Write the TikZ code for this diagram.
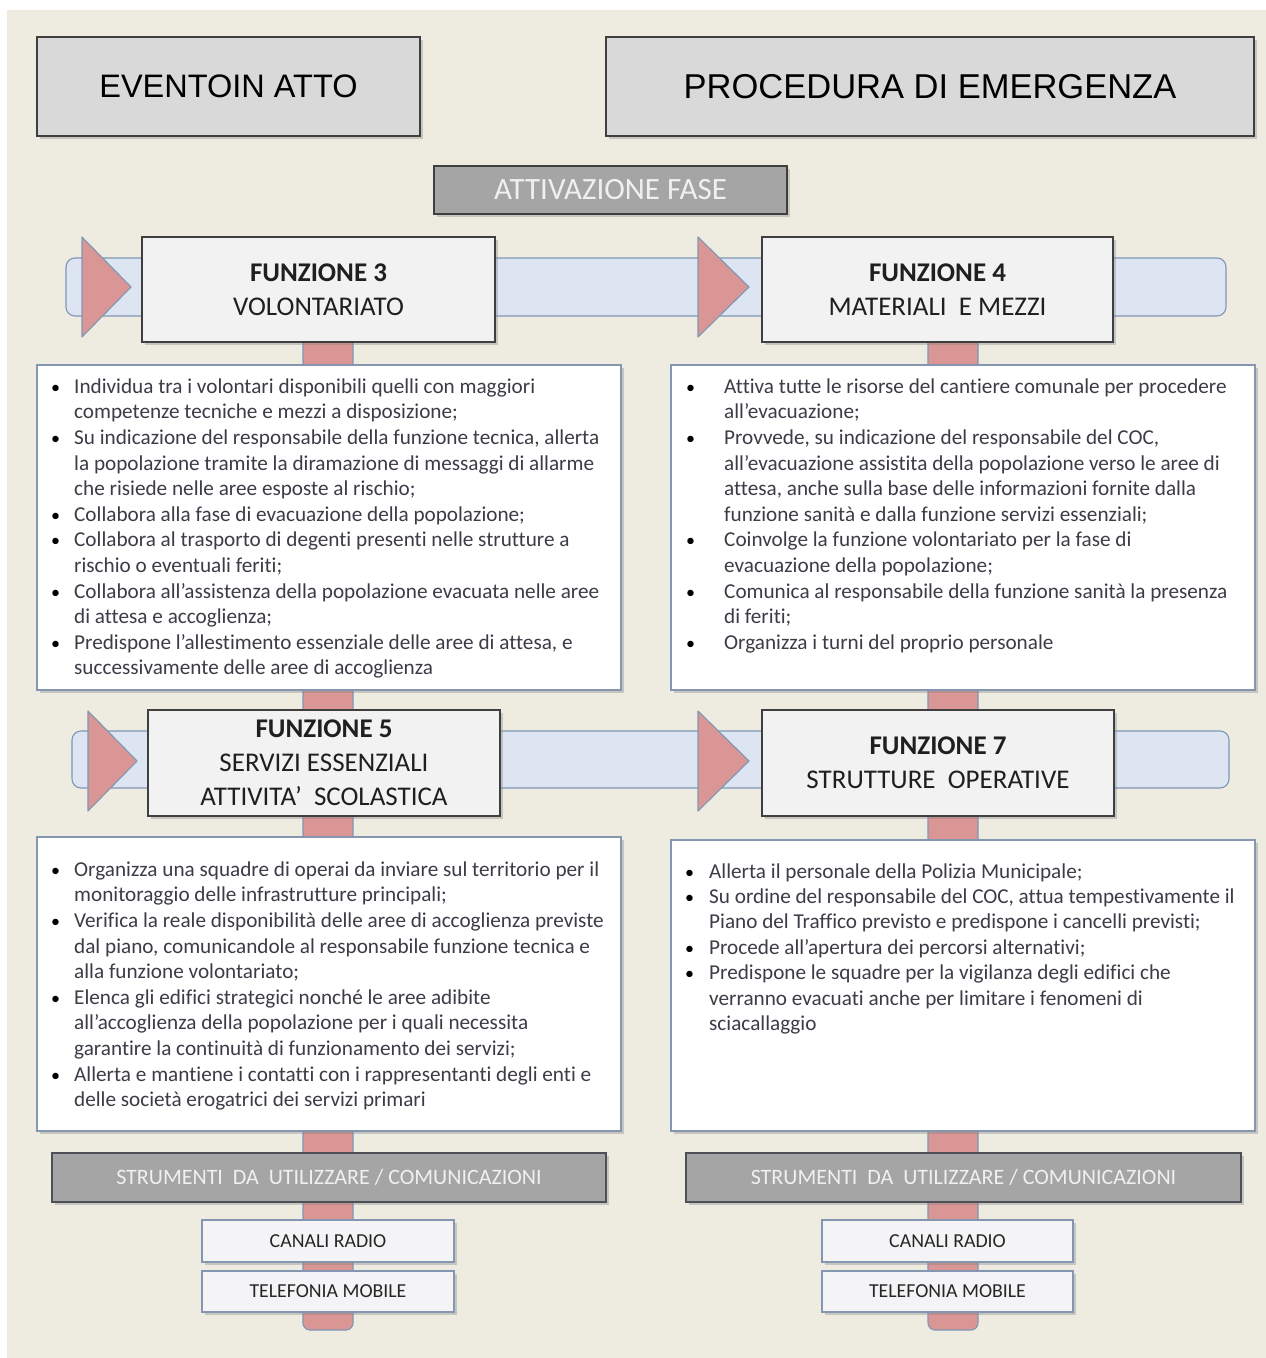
\documentclass[tikz,border=0pt]{standalone}
\usepackage{fontspec}
\setmainfont{Carlito}[Ligatures=CommonOff]
\newfontfamily\headfont{Liberation Sans}
\usetikzlibrary{shadows}

\pgfdeclarelayer{back}
\pgfdeclarelayer{under}
\pgfsetlayers{back,under,main}

\definecolor{bgbeige}{HTML}{EEEBE1}
\definecolor{hdrgray}{HTML}{D9D9D9}
\definecolor{edgedark}{HTML}{3F3F3F}
\definecolor{bandblue}{HTML}{DCE5F1}
\definecolor{bandedge}{HTML}{7F97B5}
\definecolor{pinkfill}{HTML}{D99694}
\definecolor{listedge}{HTML}{8496B0}
\definecolor{midgray}{HTML}{A5A5A5}
\definecolor{txtgray}{HTML}{3C3C46}
\definecolor{funcfill}{HTML}{F2F2F2}
\definecolor{toolfill}{HTML}{F4F4F6}

\newlength\listindent
\newcommand\itm[1]{\strut\makebox[\listindent][l]{\textcolor{black}{\scalebox{0.85}{\textbullet}}}#1}
\newcommand\cnt[1]{\strut\hspace*{\listindent}#1}

\tikzset{
  shade/.style={drop shadow={shadow xshift=2.5pt,shadow yshift=-3pt,opacity=.35}},
  header/.style={draw=edgedark, line width=1.4pt, fill=hdrgray, shade, inner sep=0pt,
    text=black},
  funcbox/.style={draw=edgedark, line width=1.4pt, fill=funcfill, shade, align=center,
    inner sep=0pt, font=\fontsize{27}{34}\selectfont, text=black!88},
  listbox/.style={draw=listedge, line width=1.1pt, fill=white, shade, inner sep=0pt},
  listtext/.style={anchor=north west, inner sep=0pt, align=left, text=txtgray,
    font=\fontsize{21.2}{25.6}\selectfont\setlength\listindent{#1}},
  graybar/.style={draw=edgedark!80!listedge, line width=1.2pt, fill=midgray, shade,
    inner sep=0pt, text=white!94!black},
  toolbox/.style={draw=listedge, line width=1.1pt, fill=toolfill, shade, inner sep=0pt,
    font=\fontsize{19.8}{22}\selectfont, text=black!85},
  band/.style={draw=bandedge, fill=bandblue, line width=1.1pt, rounded corners=9pt},
  pinkarrow/.style={draw=bandedge, fill=pinkfill, line width=1.1pt, line join=round},
  pinkbar/.style={draw=bandedge, fill=pinkfill, line width=1.1pt, rounded corners=7pt},
}

\begin{document}
\begin{tikzpicture}[x=1pt,y=-1pt]
\useasboundingbox (0,0) rectangle (1266,1358);

\begin{pgfonlayer}{back}
  \fill[white] (0,0) rectangle (1266,1358);
  \fill[bgbeige] (7,10) rectangle (1266,1358);
\end{pgfonlayer}

% headers
\node[header, minimum width=383, minimum height=99,
  font=\headfont\fontsize{32.5}{38}\selectfont] (evento) at (228.5,86.5) {EVENTOIN ATTO};
\node[header, minimum width=648, minimum height=99,
  font=\headfont\fontsize{34.5}{40}\selectfont] (procedura) at (930,86.5) {PROCEDURA DI EMERGENZA};
\node[graybar, draw=edgedark, minimum width=353, minimum height=48,
  font=\fontsize{31}{34}\selectfont] (attivazione) at (610.5,190) {ATTIVAZIONE FASE};

% function boxes
\node[funcbox, minimum width=353, minimum height=105] (f3) at (318.5,289.5)
  {\textbf{FUNZIONE 3}\\VOLONTARIATO};
\node[funcbox, minimum width=351, minimum height=105] (f4) at (937.5,289.5)
  {\textbf{FUNZIONE 4}\\MATERIALI\ \ E MEZZI};
\node[funcbox, minimum width=352, minimum height=106] (f5) at (324,763)
  {\textbf{FUNZIONE 5}\\SERVIZI ESSENZIALI\\ATTIVITA’\ \ SCOLASTICA};
\node[funcbox, minimum width=352, minimum height=106] (f7) at (938,763)
  {\textbf{FUNZIONE 7}\\STRUTTURE\ \ OPERATIVE};

% task lists
\node[listbox, minimum width=584, minimum height=325] (l1) at (329,527.5) {};
\node[listbox, minimum width=584, minimum height=325] (r1) at (963,527.5) {};
\node[listbox, minimum width=584, minimum height=294] (l2) at (329,984) {};
\node[listbox, minimum width=584, minimum height=291] (r2) at (963,985.5) {};

\node[listtext=23pt] (l1txt) at (51,375.1) {%
\itm{Individua tra i volontari disponibili quelli con maggiori}\\
\cnt{competenze tecniche e mezzi a disposizione;}\\
\itm{Su indicazione del responsabile della funzione tecnica, allerta}\\
\cnt{la popolazione tramite la diramazione di messaggi di allarme}\\
\cnt{che risiede nelle aree esposte al rischio;}\\
\itm{Collabora alla fase di evacuazione della popolazione;}\\
\itm{Collabora al trasporto di degenti presenti nelle strutture a}\\
\cnt{rischio o eventuali feriti;}\\
\itm{Collabora all’assistenza della popolazione evacuata nelle aree}\\
\cnt{di attesa e accoglienza;}\\
\itm{Predispone l’allestimento essenziale delle aree di attesa, e}\\
\cnt{successivamente delle aree di accoglienza}};

\node[listtext=38pt] (r1txt) at (686,375.1) {%
\itm{Attiva tutte le risorse del cantiere comunale per procedere}\\
\cnt{all’evacuazione;}\\
\itm{Provvede, su indicazione del responsabile del COC,}\\
\cnt{all’evacuazione assistita della popolazione verso le aree di}\\
\cnt{attesa, anche sulla base delle informazioni fornite dalla}\\
\cnt{funzione sanità e dalla funzione servizi essenziali;}\\
\itm{Coinvolge la funzione volontariato per la fase di}\\
\cnt{evacuazione della popolazione;}\\
\itm{Comunica al responsabile della funzione sanità la presenza}\\
\cnt{di feriti;}\\
\itm{Organizza i turni del proprio personale}};

\node[listtext=23pt] (l2txt) at (51,858.1) {%
\itm{Organizza una squadre di operai da inviare sul territorio per il}\\
\cnt{monitoraggio delle infrastrutture principali;}\\
\itm{Verifica la reale disponibilità delle aree di accoglienza previste}\\
\cnt{dal piano, comunicandole al responsabile funzione tecnica e}\\
\cnt{alla funzione volontariato;}\\
\itm{Elenca gli edifici strategici nonché le aree adibite}\\
\cnt{all’accoglienza della popolazione per i quali necessita}\\
\cnt{garantire la continuità di funzionamento dei servizi;}\\
\itm{Allerta e mantiene i contatti con i rappresentanti degli enti e}\\
\cnt{delle società erogatrici dei servizi primari}};

\node[listtext=24pt, font=\fontsize{21.2}{25.4}\selectfont\setlength\listindent{24pt}]
  (r2txt) at (685,860.2) {%
\itm{Allerta il personale della Polizia Municipale;}\\
\itm{Su ordine del responsabile del COC, attua tempestivamente il}\\
\cnt{Piano del Traffico previsto e predispone i cancelli previsti;}\\
\itm{Procede all’apertura dei percorsi alternativi;}\\
\itm{Predispone le squadre per la vigilanza degli edifici che}\\
\cnt{verranno evacuati anche per limitare i fenomeni di}\\
\cnt{sciacallaggio}};

% tools
\node[graybar, minimum width=554, minimum height=49,
  font=\fontsize{22}{24}\selectfont] (sl) at (329,1177.5)
  {STRUMENTI\ \ DA\ \ UTILIZZARE\ / COMUNICAZIONI};
\node[graybar, minimum width=555, minimum height=49,
  font=\fontsize{22}{24}\selectfont] (sr) at (963.5,1177.5)
  {STRUMENTI\ \ DA\ \ UTILIZZARE\ / COMUNICAZIONI};
\node[toolbox, minimum width=252, minimum height=42] (cl) at (328,1241) {CANALI RADIO};
\node[toolbox, minimum width=252, minimum height=41] (tl) at (328,1291.5) {TELEFONIA MOBILE};
\node[toolbox, minimum width=251, minimum height=42] (cr) at (947.5,1241) {CANALI RADIO};
\node[toolbox, minimum width=251, minimum height=41] (tr) at (947.5,1291.5) {TELEFONIA MOBILE};

% ends of the vertical spines
\coordinate (topL) at (328,300);
\coordinate (endL) at (328,1330);
\coordinate (topR) at (953,300);
\coordinate (endR) at (953,1330);

\begin{pgfonlayer}{under}
  % horizontal bands
  \draw[band] (66,258) rectangle (1226,316);
  \draw[band] (72,731) rectangle (1229,788);
  % vertical spines
  \draw[pinkbar] ([xshift=-25pt]topL) -- ([xshift=-25pt]endL) -- ([xshift=25pt]endL) -- ([xshift=25pt]topL);
  \draw[pinkbar] ([xshift=-25pt]topR) -- ([xshift=-25pt]endR) -- ([xshift=25pt]endR) -- ([xshift=25pt]topR);
  % arrow heads
  \draw[pinkarrow] (82,237) -- (131,287) -- (82,337) -- cycle;
  \draw[pinkarrow] (698,237) -- (749,287) -- (698,337) -- cycle;
  \draw[pinkarrow] (88,711) -- (137,761) -- (88,811) -- cycle;
  \draw[pinkarrow] (698,711) -- (749,761) -- (698,811) -- cycle;
\end{pgfonlayer}
\end{tikzpicture}
\end{document}
